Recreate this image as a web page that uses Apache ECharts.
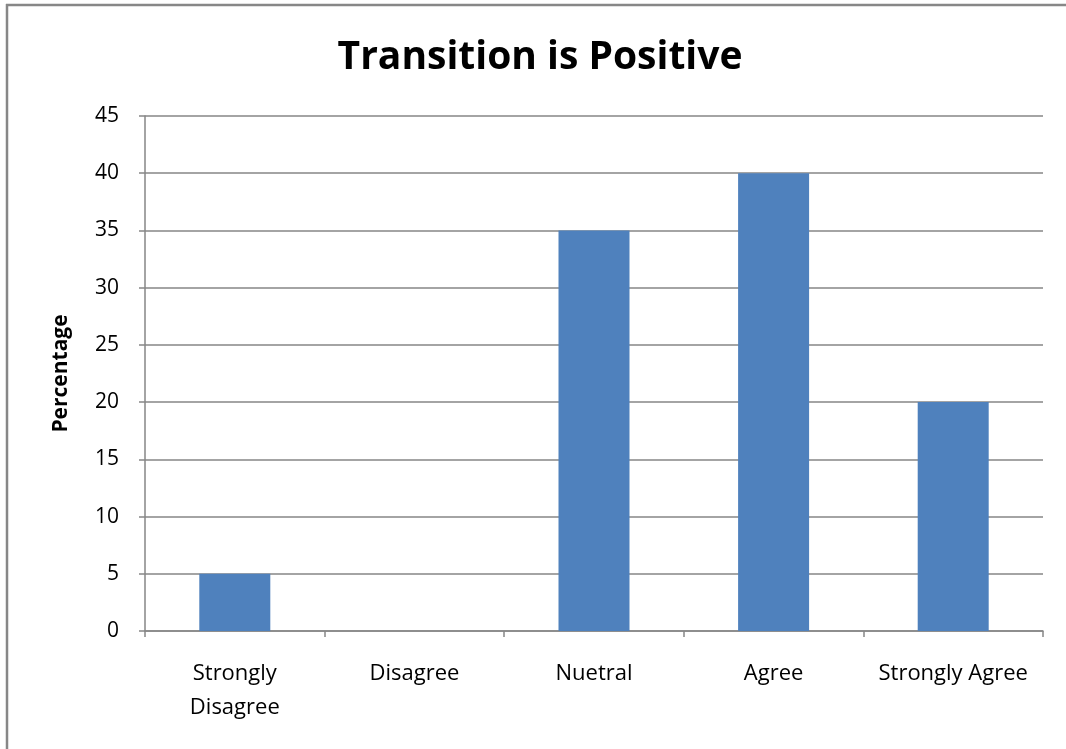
<!DOCTYPE html>
<html>
<head>
<meta charset="utf-8">
<script src="https://cdn.jsdelivr.net/npm/echarts@6/dist/echarts.min.js"></script>
<style>
html,body{margin:0;padding:0;background:#fff;}
#main{width:1066px;height:749px;}
</style>
</head>
<body>
<div id="main"></div>
<script>
const categories = ['Strongly\nDisagree', 'Disagree', 'Nuetral', 'Agree', 'Strongly Agree'];
const percentages = [5, 0, 35, 40, 20];
const titleText = 'Transition is Positive';
const yAxisName = 'Percentage';

const chart = echarts.init(document.getElementById('main'), null, {renderer: 'canvas'});
const font = '"Open Sans", "Liberation Sans", sans-serif';
chart.setOption({
  animation: false,
  backgroundColor: '#ffffff',
  title: {
    text: titleText,
    left: 535, top: 33, textAlign: 'center',
    textStyle: {fontFamily: font, fontWeight: 'bold', fontSize: 39, color: '#000'}
  },
  grid: {left: 145, right: 23, top: 116, bottom: 118},
  xAxis: {
    type: 'category',
    data: categories,
    axisLine: {lineStyle: {color: '#868686', width: 1.5}},
    axisTick: {show: true, length: 6, alignWithLabel: false, lineStyle: {color: '#868686', width: 1.5}},
    axisLabel: {fontFamily: font, fontSize: 22, color: '#000', margin: 26, lineHeight: 34, interval: 0}
  },
  yAxis: {
    type: 'value',
    min: 0, max: 45, interval: 5,
    name: yAxisName,
    nameLocation: 'middle',
    nameGap: 73,
    nameTextStyle: {fontFamily: font, fontWeight: 'bold', fontSize: 21, color: '#000'},
    axisLine: {show: true, lineStyle: {color: '#868686', width: 1.5}},
    axisTick: {show: true, length: 6, lineStyle: {color: '#868686', width: 1.5}},
    axisLabel: {fontFamily: font, fontSize: 21, color: '#000', margin: 26},
    splitLine: {show: true, lineStyle: {color: '#868686', width: 1.5}}
  },
  series: [{
    type: 'bar',
    data: percentages,
    barWidth: 71,
    itemStyle: {color: '#4F81BD'}
  }],
  graphic: [
    {type: 'line', shape: {x1: 6, y1: 5, x2: 1066, y2: 5}, style: {stroke: '#878787', lineWidth: 2.5}},
    {type: 'line', shape: {x1: 7, y1: 4, x2: 7, y2: 749}, style: {stroke: '#878787', lineWidth: 2.5}}
  ]
});
</script>
</body>
</html>
